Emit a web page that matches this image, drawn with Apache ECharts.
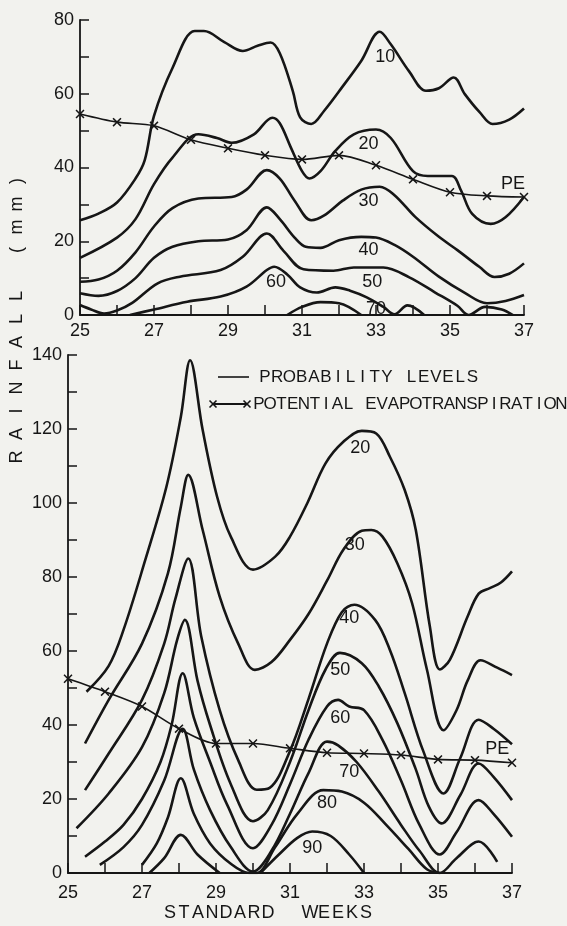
<!DOCTYPE html>
<html><head><meta charset="utf-8">
<script src="https://cdn.jsdelivr.net/npm/echarts@6/dist/echarts.min.js"></script>
<style>html,body{margin:0;padding:0;background:#f2f2ee}#c{width:567px;height:926px}</style>
</head><body><div id="c"></div>
<script>
// ---------- DATA ----------
const weeks = [25,26,27,28,29,30,31,32,33,34,35,36,37];
const peTop    = [54.5,52.3,51.3,47.5,45.2,43.3,42.2,43.3,40.6,36.8,33.3,32.3,32];
const peBottom = [52.5,49,45,39,35,35,33.7,32.5,32.3,31.9,30.7,30.5,29.8];

// top panel probability curves [week, rainfall]
const top10 = [[25,25.7],[25.5,27.5],[26,30.5],[26.5,37],[26.75,42],[27,54],[27.5,67],[28.1,77],[28.35,77],[28.9,74],[29.4,71.6],[29.8,73],[30.15,73.9],[30.4,71],[30.75,60.8],[30.95,53.6],[31.25,51.8],[31.6,55.4],[32.1,62],[32.6,68.9],[33.1,76.8],[33.4,73.4],[33.9,66],[34.35,60.8],[34.7,61.5],[35.1,64.4],[35.4,59.9],[35.8,55],[36.15,51.8],[36.6,53],[37,56]];
const top20 = [[25,15.5],[26,21],[26.5,26],[27,35.5],[27.5,42.7],[28.2,49],[28.7,48],[29.1,46.7],[29.7,49],[30.2,53.5],[30.4,52],[30.7,45.4],[31,39],[31.2,37],[31.5,39],[31.9,44.5],[32.4,49],[33,50.3],[33.4,48],[34,39],[34.4,37.7],[35.05,37.7],[35.3,33.7],[35.6,27.4],[36.1,24.7],[36.5,26.5],[37,32]];
const top30 = [[25,9],[25.5,9.6],[26,12],[26.5,17],[27,24],[27.5,29],[28.2,31.6],[29.1,32],[29.5,34],[30.05,39.3],[30.4,37],[30.8,31],[31.25,25.7],[31.6,27],[32.1,31],[32.6,34],[33.1,34.8],[33.5,32.5],[34.06,26.6],[34.7,21.2],[35.2,17.6],[35.8,13],[36.2,10.3],[36.6,11.2],[37,14]];
const top40 = [[25,5.9],[25.5,5.2],[26,6.5],[26.5,10],[27,15.5],[27.5,18.5],[28.2,20],[29,20.5],[29.5,23],[30.05,29.2],[30.4,26],[30.8,21],[31.1,18.5],[31.5,18.2],[32,20.3],[32.6,21.2],[33,21],[33.5,19],[34,15.8],[34.7,10.4],[35.4,6],[36,3.2],[36.5,3.8],[37,5.4]];
const top50 = [[25,2.7],[25.3,1.5],[25.65,0.4],[26,1.2],[26.4,3.2],[27.1,8.6],[27.7,10.4],[28.8,12.2],[29.4,15.8],[30.05,22.1],[30.5,17.4],[31.04,12.4],[31.85,12],[32.4,12.9],[33.2,12.9],[33.9,10.2],[34.6,6.1],[35.2,2.5],[35.5,0],[35.95,2.2],[36.4,1.5],[36.7,0]];
const top60 = [[26.35,0],[27,1.5],[27.9,3.6],[28.8,5],[29.5,7.7],[30.05,12.2],[30.25,13.1],[30.6,11],[30.95,7.5],[31.4,6.1],[31.9,7.5],[32.3,6.6],[32.75,4.8],[33.2,2.2],[33.5,0.2],[33.85,2.6],[34.3,0]];
const top70 = [[30.6,0],[31,2.2],[31.5,3.5],[32,3.2],[32.6,0]];

// bottom panel probability curves [week, rainfall]
const bot20 = [[25.5,49],[26.1,56],[26.5,65.7],[27.07,84],[27.66,104.4],[28.05,123.3],[28.3,138.6],[28.64,119.7],[29.03,101.7],[29.4,90.9],[30,82],[30.6,85.5],[31,90.9],[31.47,100],[31.96,110.7],[32.45,116.6],[32.94,119.5],[33.33,118.8],[33.7,112.5],[34.1,103.5],[34.4,92.7],[34.78,66.6],[35.05,55],[35.32,57.6],[35.8,69.3],[36.1,75.5],[36.4,77],[36.7,78.5],[37,81.5]];
const bot30 = [[25.46,35],[26.1,46.8],[27,62],[27.7,81],[28.05,99],[28.25,107.6],[28.64,92.7],[29.1,74.7],[29.6,62],[30.05,54.9],[30.5,57],[31,63],[31.5,70],[32,79],[32.45,87.5],[32.94,92.5],[33.2,92.7],[33.5,90.9],[33.9,83.7],[34.3,72.9],[34.7,55],[35.15,38.6],[35.5,44],[35.8,52],[36.15,57.5],[36.6,55.5],[37,53.5]];
const bot40 = [[25.46,22.4],[26.1,32.3],[27,46.8],[27.6,62],[27.9,74],[28.25,85],[28.6,64],[29.1,44],[29.6,30.5],[30.1,22.5],[30.45,23],[31,33],[31.5,47],[32,62],[32.4,70.5],[32.74,72.5],[33.3,68.4],[33.7,60.3],[34.1,48.6],[34.6,33],[35.15,21.5],[35.6,31],[36.1,41.4],[36.5,39],[37,34.8]];
const bot50 = [[25.23,12.1],[26.1,21.5],[27,34],[27.6,48.6],[27.95,63],[28.16,68.4],[28.5,52],[28.84,40],[29.4,24],[30,14],[30.4,17],[31,30],[31.5,44],[31.96,55],[32.35,59.5],[32.94,56.7],[33.4,50.4],[33.9,40.5],[34.4,28],[34.75,18],[35.1,13.4],[35.6,21],[36.1,29.6],[36.5,26],[37,19.7]];
const bot60 = [[25.46,4.4],[26,8.5],[26.5,13],[27,20],[27.5,30],[27.8,40],[28.1,54],[28.4,42],[28.84,30],[29.3,18.5],[30,6.7],[30.5,13],[31,24],[31.5,36],[32,45],[32.3,46.8],[32.6,45],[33,44],[33.5,36],[34,25],[34.5,13],[35.05,5],[35.5,11],[36.1,19.7],[36.5,16],[37,9.8]];
const bot70 = [[25.86,2.2],[26.5,7],[27,13],[27.6,25],[28.1,39],[28.4,28],[28.84,17],[29.4,7],[30,0.4],[30.5,6],[31,16],[31.5,27],[32,35.5],[32.3,34.5],[32.8,30],[33.4,22],[34,13],[34.5,6],[35.05,0],[35.5,4],[36.1,8.5],[36.6,3]];
const bot80 = [[27,2.2],[27.4,8],[27.7,15],[28.05,25.6],[28.4,16],[28.84,8],[29.4,2.5],[29.9,0],[30.1,0],[30.6,7],[31.2,16],[31.9,22.4],[32.4,22],[33,19],[33.6,13],[34.2,6.5],[34.7,1],[35.05,0]];
const bot90 = [[27.2,0],[27.6,4],[28.05,10.3],[28.5,5],[29.1,0],[29.6,null],[30.2,0],[30.7,5],[31.2,9.5],[31.6,11.2],[32.1,10],[32.6,5],[33,0]];

// curve labels [week, rainfall, text]
const labelsTop = [[33.25,70,'10'],[32.8,46.4,'20'],[32.8,31,'30'],[32.8,17.5,'40'],[32.9,9,'50'],[30.3,9,'60'],[33.0,1.6,'70'],[36.7,35.6,'PE']];
const labelsBottom = [[32.9,114.8,'20'],[32.75,88.6,'30'],[32.6,68.8,'40'],[32.36,54.9,'50'],[32.36,41.8,'60'],[32.6,27.4,'70'],[32.0,18.8,'80'],[31.6,6.7,'90'],[36.6,33.5,'PE']];

const yTicksTop = [0,20,40,60,80];
const yTicksBottom = [0,20,40,60,80,100,120,140];
const xTickLabels = [25,27,29,31,33,35,37];

const yTitle = 'RAINFALL (mm)';
const xTitle = 'STANDARD  WEEKS';
const legendTexts = ['PROBABILITY LEVELS', 'POTENTIAL EVAPOTRANSPIRATION'];

// ---------- CHART ----------
const INK = '#161616';
const FONT = 'Liberation Sans';
const chart = echarts.init(document.getElementById('c'));

function xAxisCfg(gi, margin) {
  return {
    type: 'value', gridIndex: gi, min: 25, max: 37, interval: 1,
    axisLine: {show: true, onZero: false, lineStyle: {color: INK, width: 1.8}},
    axisTick: {show: true, inside: true, length: 10, lineStyle: {color: INK, width: 1.5}},
    axisLabel: {margin: margin, color: INK, fontSize: 18, fontFamily: FONT,
      formatter: v => xTickLabels.indexOf(v) >= 0 ? String(v) : ''},
    splitLine: {show: false}
  };
}
function yAxisCfg(gi, max, ticks) {
  return {
    type: 'value', gridIndex: gi, min: 0, max: max, interval: 10,
    axisLine: {show: true, lineStyle: {color: INK, width: 1.8}},
    axisTick: {show: true, inside: true, length: 9, lineStyle: {color: INK, width: 1.5}},
    axisLabel: {margin: 6, color: INK, fontSize: 18, fontFamily: FONT,
      formatter: v => ticks.indexOf(v) >= 0 ? String(v) : ''},
    splitLine: {show: false}
  };
}

function curve(data, gi) {
  return {type: 'line', xAxisIndex: gi, yAxisIndex: gi, data: data, smooth: 0.35,
    showSymbol: false, symbol: 'none', connectNulls: false, silent: true,
    lineStyle: {color: INK, width: 2.6}};
}
const XMARK = 'path://M0,1.2L1.2,0L5,3.8L8.8,0L10,1.2L6.2,5L10,8.8L8.8,10L5,6.2L1.2,10L0,8.8L3.8,5Z';
function peSeries(vals, gi) {
  return {type: 'line', xAxisIndex: gi, yAxisIndex: gi, smooth: 0.3,
    data: weeks.map((w, i) => [w, vals[i]]),
    symbol: XMARK, symbolSize: 9, showSymbol: true,
    itemStyle: {color: INK, opacity: 1}, lineStyle: {color: INK, width: 1.6}, silent: true};
}
function labelSeries(items, gi) {
  return {type: 'scatter', xAxisIndex: gi, yAxisIndex: gi, symbolSize: 1,
    itemStyle: {color: 'rgba(0,0,0,0)', opacity: 1}, silent: true, z: 5,
    data: items.map(d => ({value: [d[0], d[1]], name: d[2]})),
    label: {show: true, position: 'inside', formatter: p => p.name, opacity: 1,
      color: INK, fontSize: 18, fontFamily: FONT}};
}

function spacedText(str, x0, y0, step, vertical, size) {
  return str.split('').map((ch, i) => ({
    type: 'text',
    x: vertical ? x0 : x0 + i * step,
    y: vertical ? y0 - i * step : y0,
    rotation: vertical ? Math.PI / 2 : 0,
    style: {text: ch, fill: INK, fontSize: size, fontFamily: FONT,
      textAlign: 'center', textVerticalAlign: 'middle'}
  }));
}
function xMark(cx, cy, r) {
  return [
    {type: 'line', shape: {x1: cx - r, y1: cy - r, x2: cx + r, y2: cy + r}, style: {stroke: INK, lineWidth: 1.6}},
    {type: 'line', shape: {x1: cx - r, y1: cy + r, x2: cx + r, y2: cy - r}, style: {stroke: INK, lineWidth: 1.6}}
  ];
}

const graphics = []
  .concat(spacedText(yTitle, 17, 457, 23, true, 18))
  .concat(spacedText(xTitle, 170, 913, 14, false, 18))
  .concat(spacedText(legendTexts[0], 265, 377, 12.2, false, 17))
  .concat(spacedText(legendTexts[1], 259, 404, 11.2, false, 17))
  .concat([
    {type: 'line', shape: {x1: 218, y1: 377, x2: 249, y2: 377}, style: {stroke: INK, lineWidth: 1.6}},
    {type: 'line', shape: {x1: 213, y1: 404, x2: 247, y2: 404}, style: {stroke: INK, lineWidth: 2}}
  ])
  .concat(xMark(213, 404, 3.5))
  .concat(xMark(247, 404, 3.5));

chart.setOption({
  backgroundColor: '#f2f2ee',
  animation: false,
  grid: [
    {left: 80, right: 43, top: 20, height: 295},
    {left: 68, right: 55, top: 355, height: 518}
  ],
  xAxis: [xAxisCfg(0, 7), xAxisCfg(1, 11)],
  yAxis: [yAxisCfg(0, 80, yTicksTop), yAxisCfg(1, 140, yTicksBottom)],
  graphic: graphics,
  series: [
    curve(top10, 0), curve(top20, 0), curve(top30, 0), curve(top40, 0),
    curve(top50, 0), curve(top60, 0), curve(top70, 0),
    peSeries(peTop, 0), labelSeries(labelsTop, 0),
    curve(bot20, 1), curve(bot30, 1), curve(bot40, 1), curve(bot50, 1),
    curve(bot60, 1), curve(bot70, 1), curve(bot80, 1), curve(bot90, 1),
    peSeries(peBottom, 1), labelSeries(labelsBottom, 1)
  ]
});
</script></body></html>
